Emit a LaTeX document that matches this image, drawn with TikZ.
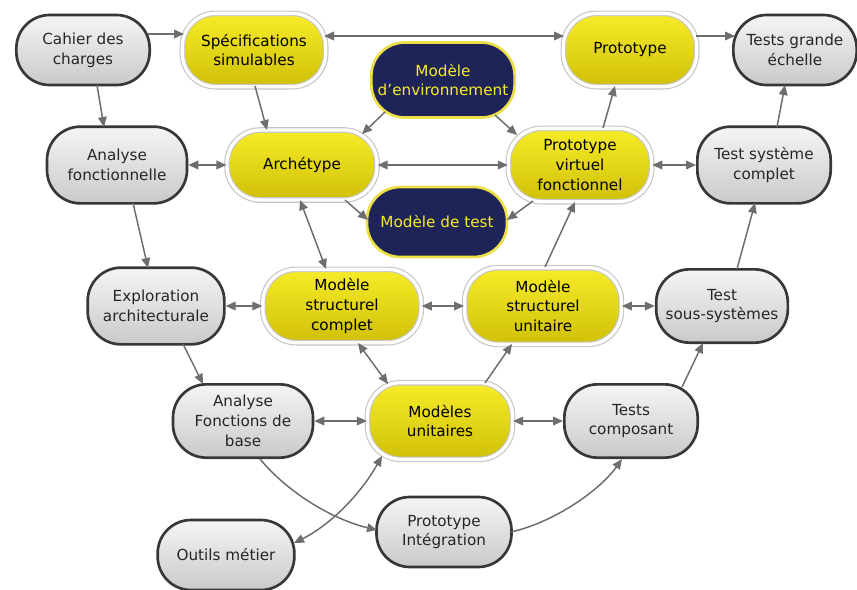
\documentclass[tikz,border=0pt]{standalone}
\usepackage{fontspec}
\setmainfont{DejaVu Sans}
\usetikzlibrary{arrows.meta}

\definecolor{jauneclair}{RGB}{247,236,40}
\definecolor{jaunefonce}{RGB}{208,192,8}
\definecolor{marine}{RGB}{30,35,88}
\definecolor{bordjaune}{RGB}{236,224,70}
\definecolor{grisfleche}{RGB}{110,110,110}
\definecolor{grisbord}{RGB}{55,55,55}

\begin{document}
\begin{tikzpicture}[x=0.3mm, y=-0.3mm,
        boite/.style={rectangle, rounded corners=10mm, minimum width=41mm, minimum height=22mm,
            inner sep=0.3mm, align=center, font=\fontsize{13}{17}\selectfont},
        grisbox/.style={boite, top color=gray!8, bottom color=gray!42, draw=grisbord, line width=0.8mm, text=black!85},
        jaunebox/.style={boite, top color=jauneclair, bottom color=jaunefonce, draw=gray!45, double=white,
            double distance=1mm, line width=0.35mm},
        marinebox/.style={boite, fill=marine, draw=bordjaune, line width=0.8mm, text=jauneclair},
        fleche/.style={draw=grisfleche, line width=0.45mm},
        >={Triangle[length=3mm,width=2.6mm]}]

                \useasboundingbox (0, 0) rectangle (857, 589);

                \node[grisbox, minimum width=40mm, minimum height=21mm] (cahier) at (83, 50) {Cahier des\\charges};

                \node[jaunebox, minimum width=43mm] (specs) at (254, 50) {Spécifications\\simulables};

                \node[marinebox, minimum width=43mm, minimum height=22.5mm] (menv) at (443, 80) {Modèle\\d'environnement};

                \node[jaunebox, minimum width=40mm] (proto) at (630, 50) {Prototype};

                \node[grisbox, minimum width=37mm, minimum height=21mm] (tge) at (795, 50) {Tests grande\\échelle};

                \node[grisbox, minimum width=42mm, minimum height=23mm] (anaf) at (117, 165) {Analyse\\fonctionnelle};

                \node[jaunebox, minimum width=45mm, minimum height=21mm] (arch) at (302, 165) {Archétype};

                \node[jaunebox, minimum width=43mm] (pvf) at (580, 165) {Prototype\\virtuel\\fonctionnel};

                \node[grisbox, minimum width=40mm, minimum height=23mm] (tsc) at (764, 165) {Test système\\complet};

                \node[marinebox, minimum width=42mm, minimum height=21mm] (mtest) at (437, 222) {Modèle de test};

                \node[grisbox, minimum height=23mm] (expl) at (156, 306) {Exploration\\architecturale};

                \node[jaunebox, minimum width=47.5mm] (msc) at (342, 306) {Modèle\\structurel\\complet};

                \node[jaunebox, minimum width=47mm, minimum height=23mm] (msu) at (543, 306) {Modèle\\structurel\\unitaire};

                \node[grisbox, minimum width=39.5mm] (tss) at (722, 306) {Test\\sous-systèmes};

                \node[grisbox, minimum width=42mm] (afb) at (243, 421) {Analyse\\Fonctions de\\base};

                \node[jaunebox, minimum width=43.5mm, minimum height=23mm] (mu) at (440, 421) {Modèles\\unitaires};

                \node[grisbox, minimum width=40mm] (tcomp) at (631, 421) {Tests\\composant};

                \node[grisbox, minimum height=21mm] (outils) at (226, 555) {Outils métier};

                \node[grisbox, minimum width=40.5mm, minimum height=21mm] (pint) at (444, 532) {Prototype\\Intégration};

                \draw[fleche, ->] ([shift={(65, -16)}]cahier.center) -- ([shift={(-70, -16)}]specs.center);

                \draw[fleche, <->] ([shift={(70, -14)}]specs.center) -- ([shift={(-66, -14)}]proto.center);

                \draw[fleche, ->] ([shift={(66, -14)}]proto.center) -- ([shift={(-60, -14)}]tge.center);

                \draw[fleche, ->] ([shift={(14, 35)}]cahier.center) -- ([shift={(-13, -38)}]anaf.center);

                \draw[fleche, ->] ([shift={(1, 36)}]specs.center) -- ([shift={(-35, -35)}]arch.center);

                \draw[fleche, ->] ([shift={(-58, 32)}]menv.center) -- ([shift={(60, -31)}]arch.center);

                \draw[fleche, ->] ([shift={(52, 35)}]menv.center) -- ([shift={(-63, -30)}]pvf.center);

                \draw[fleche, ->] ([shift={(23, -37)}]pvf.center) -- ([shift={(-15, 36)}]proto.center);

                \draw[fleche, ->] ([shift={(13, -38)}]tsc.center) -- ([shift={(-10, 35)}]tge.center);

                \draw[fleche, <->] (anaf.east) -- (arch.west);

                \draw[fleche, <->] (arch.east) -- (pvf.west);

                \draw[fleche, <->] (pvf.east) -- (tsc.west);

                \draw[fleche, ->] ([shift={(16, 38)}]anaf.center) -- ([shift={(-8, -38)}]expl.center);

                \draw[fleche, <->] ([shift={(-2, 35)}]arch.center) -- ([shift={(-16, -37)}]msc.center);

                \draw[fleche, ->] ([shift={(43, 35)}]arch.center) -- ([shift={(-69, -2)}]mtest.center);

                \draw[fleche, ->] ([shift={(-47, 36)}]pvf.center) -- ([shift={(70, -2)}]mtest.center);

                \draw[fleche, ->] ([shift={(2, -39)}]msu.center) -- ([shift={(-5, 37)}]pvf.center);

                \draw[fleche, ->] ([shift={(15, -37)}]tss.center) -- ([shift={(-9, 38)}]tsc.center);

                \draw[fleche, <->] (expl.east) -- (msc.west);

                \draw[fleche, <->] (msc.east) -- (msu.west);

                \draw[fleche, <->] (msu.east) -- (tss.west);

                \draw[fleche, ->] ([shift={(27, 38)}]expl.center) -- ([shift={(-40, -37)}]afb.center);

                \draw[fleche, <->] ([shift={(16, 37)}]msc.center) -- ([shift={(-52, -37)}]mu.center);

                \draw[fleche, ->] ([shift={(45, -38)}]mu.center) -- ([shift={(-31, 38)}]msu.center);

                \draw[fleche, ->] ([shift={(51, -34)}]tcomp.center) -- ([shift={(-19, 37)}]tss.center);

                \draw[fleche, <->] (afb.east) -- (mu.west);

                \draw[fleche, <->] (mu.east) -- (tcomp.west);

                \draw[fleche, ->] ([shift={(17, 38)}]afb.center) .. controls (290, 495) and (335, 520) .. ([shift={(-67, -2)}]pint.center);

                \draw[fleche, <->] ([shift={(-58, 35)}]mu.center) .. controls (360, 495) and (330, 525) .. ([shift={(68, -12)}]outils.center);

                \draw[fleche, ->] ([shift={(67, 0)}]pint.center) .. controls (555, 522) and (600, 490) .. ([shift={(-9, 38)}]tcomp.center);
            \end{tikzpicture}
\end{document}
